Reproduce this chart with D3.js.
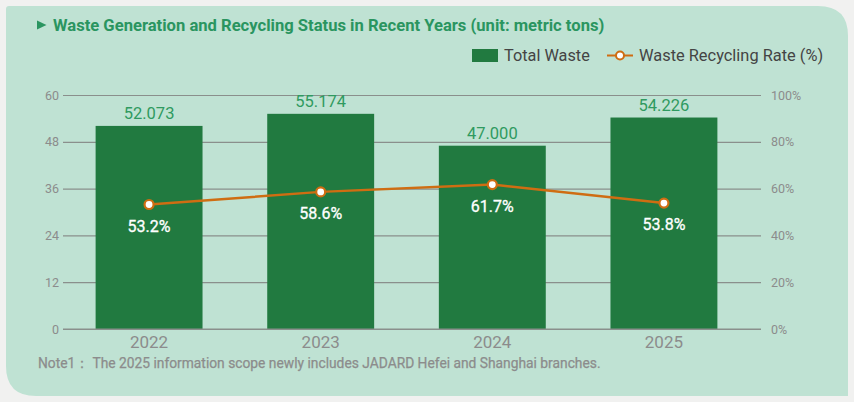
<!DOCTYPE html>
<html>
<head>
<meta charset="utf-8">
<script src="https://cdn.jsdelivr.net/npm/d3@7"></script>
<style>
  html, body { margin: 0; padding: 0; background: #f1f1f0; }
  svg { display: block; font-family: Roboto, "Noto Sans", sans-serif; }
</style>
</head>
<body>
<div id="chart-area"></div>
<script>
const years = ["2022", "2023", "2024", "2025"]
const totalWaste = [52.073, 55.174, 47.000, 54.226]
const recyclingRate = [53.2, 58.6, 61.7, 53.8]
const leftTicks = [0, 12, 24, 36, 48, 60]
const rightTicks = [0, 20, 40, 60, 80, 100]

const W = 854, H = 402
const PLOT = { LEFT: 63, RIGHT: 750, GRIDEND: 761, TOP: 95, BOTTOM: 329 }

const GREEN = "#217a40"
const ORANGE = "#cf6d12"
const GRAY = "#8c8c8c"

const svg = d3.select("#chart-area").append("svg")
  .attr("width", W)
  .attr("height", H)

// panel with uneven rounded corners
const px0 = 6, py0 = 6, px1 = 848, py1 = 396, rBig = 30, rSmall = 3
svg.append("path")
  .attr("fill", "#bfe2d3")
  .attr("d", `M${px0 + rSmall},${py0} L${px1 - rBig},${py0} Q${px1},${py0} ${px1},${py0 + rBig}
    L${px1},${py1} L${px0 + rBig},${py1} Q${px0},${py1} ${px0},${py1 - rBig}
    L${px0},${py0 + rSmall} Q${px0},${py0} ${px0 + rSmall},${py0} Z`)

// title
svg.append("path")
  .attr("d", "M37,20.5 L46.5,25 L37,29.5 Z")
  .attr("fill", "#2a9560")
svg.append("text")
  .attr("x", 53)
  .attr("y", 30.5)
  .attr("fill", "#2a9560")
  .attr("font-size", "16.6px")
  .attr("font-weight", "bold")
  .text("Waste Generation and Recycling Status in Recent Years (unit: metric tons)")

const x = d3.scaleBand()
  .domain(years)
  .range([PLOT.LEFT, PLOT.RIGHT])
  .paddingInner(0.377)
  .paddingOuter(0.19)

const y = d3.scaleLinear()
  .domain([0, 60])
  .range([PLOT.BOTTOM, PLOT.TOP])

const y2 = d3.scaleLinear()
  .domain([0, 100])
  .range([PLOT.BOTTOM, PLOT.TOP])

// gridlines + left axis
const yAxisCall = d3.axisLeft(y)
  .tickValues(leftTicks)
  .tickSize(-(PLOT.GRIDEND - PLOT.LEFT))
  .tickPadding(4)

const gy = svg.append("g")
  .attr("transform", `translate(${PLOT.LEFT}, 0)`)
  .call(yAxisCall)
gy.select(".domain").remove()
gy.selectAll("line").attr("stroke", "#8a8f8c").attr("stroke-width", 1.2)
gy.selectAll("text")
  .attr("fill", GRAY)
  .attr("font-size", "12.5px")
  .attr("font-family", "Roboto, sans-serif")

// right axis
const y2AxisCall = d3.axisRight(y2)
  .tickValues(rightTicks)
  .tickSize(0)
  .tickPadding(10)
  .tickFormat(d => d + "%")

const gy2 = svg.append("g")
  .attr("transform", `translate(${PLOT.GRIDEND}, 0)`)
  .call(y2AxisCall)
gy2.select(".domain").remove()
gy2.selectAll("text")
  .attr("fill", GRAY)
  .attr("font-size", "12.5px")
  .attr("font-family", "Roboto, sans-serif")

// bars
svg.selectAll("rect.bar")
  .data(years)
  .enter().append("rect")
  .attr("class", "bar")
  .attr("x", d => x(d))
  .attr("width", x.bandwidth())
  .attr("y", (d, i) => y(totalWaste[i]))
  .attr("height", (d, i) => PLOT.BOTTOM - y(totalWaste[i]))
  .attr("fill", GREEN)

// redraw base line above bars
svg.append("line")
  .attr("x1", PLOT.LEFT).attr("x2", PLOT.GRIDEND)
  .attr("y1", y(0)).attr("y2", y(0))
  .attr("stroke", "#8a8f8c").attr("stroke-width", 1.2)

// bar labels
svg.selectAll("text.barlabel")
  .data(years)
  .enter().append("text")
  .attr("class", "barlabel")
  .attr("x", d => x(d) + x.bandwidth() / 2)
  .attr("y", (d, i) => y(totalWaste[i]) - 7)
  .attr("text-anchor", "middle")
  .attr("fill", "#2f9a60")
  .attr("font-size", "16.5px")
  .text((d, i) => totalWaste[i].toFixed(3))

// x labels
svg.selectAll("text.year")
  .data(years)
  .enter().append("text")
  .attr("class", "year")
  .attr("x", d => x(d) + x.bandwidth() / 2)
  .attr("y", 348)
  .attr("text-anchor", "middle")
  .attr("fill", GRAY)
  .attr("font-size", "17px")
  .text(d => d)

// recycling line
const cx = d => x(d) + x.bandwidth() / 2
svg.append("path")
  .datum(years)
  .attr("fill", "none")
  .attr("stroke", ORANGE)
  .attr("stroke-width", 2.5)
  .attr("d", d3.line()
    .x(d => cx(d))
    .y((d, i) => y2(recyclingRate[i]))
  )

svg.selectAll("circle.pt")
  .data(years)
  .enter().append("circle")
  .attr("class", "pt")
  .attr("cx", d => cx(d))
  .attr("cy", (d, i) => y2(recyclingRate[i]))
  .attr("r", 4.5)
  .attr("fill", "white")
  .attr("stroke", ORANGE)
  .attr("stroke-width", 2.2)

svg.selectAll("text.pct")
  .data(years)
  .enter().append("text")
  .attr("class", "pct")
  .attr("x", d => cx(d))
  .attr("y", (d, i) => y2(recyclingRate[i]) + 27)
  .attr("text-anchor", "middle")
  .attr("fill", "white")
  .attr("stroke", "white")
  .attr("stroke-width", 0.3)
  .attr("font-size", "16px")
  .text((d, i) => recyclingRate[i].toFixed(1) + "%")

// legend
svg.append("rect")
  .attr("x", 472).attr("y", 49)
  .attr("width", 26).attr("height", 13)
  .attr("fill", GREEN)
svg.append("text")
  .attr("x", 504).attr("y", 61)
  .attr("fill", "#444")
  .attr("font-size", "16.3px")
  .text("Total Waste")

svg.append("line")
  .attr("x1", 607).attr("x2", 633)
  .attr("y1", 55.5).attr("y2", 55.5)
  .attr("stroke", ORANGE).attr("stroke-width", 2)
svg.append("circle")
  .attr("cx", 620).attr("cy", 55.5).attr("r", 4)
  .attr("fill", "white")
  .attr("stroke", ORANGE).attr("stroke-width", 2)
svg.append("text")
  .attr("x", 639).attr("y", 61)
  .attr("fill", "#444")
  .attr("font-size", "16.4px")
  .text("Waste Recycling Rate (%)")

// note
svg.append("text")
  .attr("x", 38).attr("y", 368)
  .attr("fill", GRAY)
  .attr("stroke", GRAY)
  .attr("stroke-width", 0.25)
  .attr("font-size", "13.8px")
  .text("Note1： The 2025 information scope newly includes JADARD Hefei and Shanghai branches.")
</script>
</body>
</html>
